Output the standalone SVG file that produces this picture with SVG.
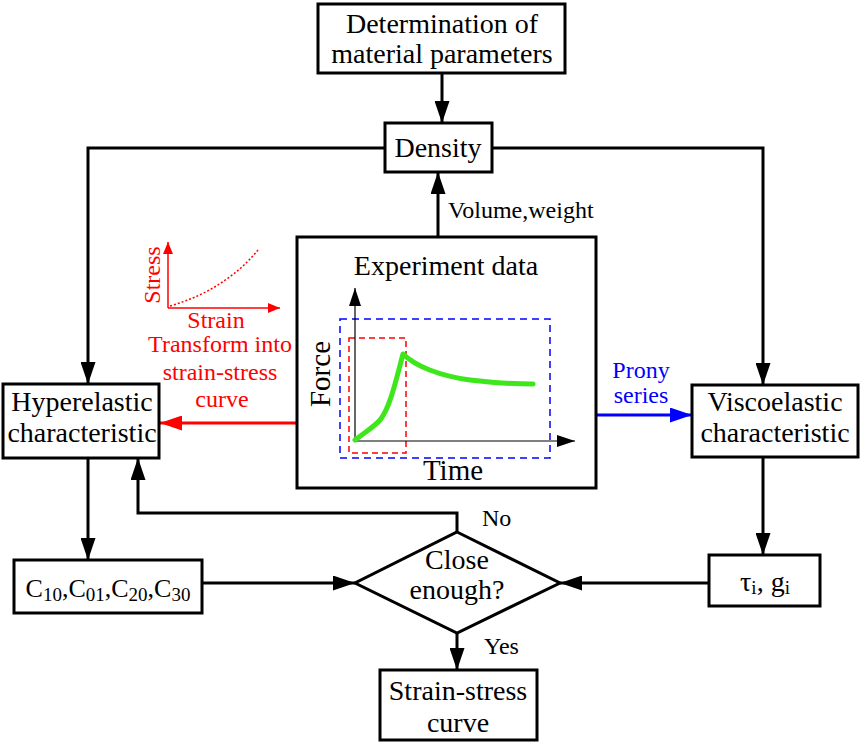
<svg xmlns="http://www.w3.org/2000/svg" width="860" height="744" viewBox="0 0 860 744">
<style>
.box{fill:#fff;stroke:#000;stroke-width:3}
.t{font-family:"Liberation Serif","Times New Roman",serif;font-size:28px;fill:#000;text-anchor:middle}
.s{font-size:24px}
.ln{fill:none;stroke:#000;stroke-width:3}
.red{fill:#f00}
.blue{fill:#00f}
</style>
<defs>
<marker id="ak" viewBox="0 0 22 15" refX="22" refY="7.5" markerWidth="22" markerHeight="15" markerUnits="userSpaceOnUse" orient="auto"><path d="M0,0L22,7.5L0,15z" fill="#000"/></marker>
<marker id="ar" viewBox="0 0 22 15" refX="22" refY="7.5" markerWidth="22" markerHeight="15" markerUnits="userSpaceOnUse" orient="auto"><path d="M0,0L22,7.5L0,15z" fill="#f00"/></marker>
<marker id="ab" viewBox="0 0 22 15" refX="22" refY="7.5" markerWidth="22" markerHeight="15" markerUnits="userSpaceOnUse" orient="auto"><path d="M0,0L22,7.5L0,15z" fill="#00f"/></marker>
<marker id="ax" viewBox="0 0 18 12" refX="18" refY="6" markerWidth="18" markerHeight="12" markerUnits="userSpaceOnUse" orient="auto"><path d="M0,0L18,6L0,12z" fill="#000"/></marker>
<marker id="axr" viewBox="0 0 12 10" refX="12" refY="5" markerWidth="12" markerHeight="10" markerUnits="userSpaceOnUse" orient="auto"><path d="M0,0L12,5L0,10z" fill="#f00"/></marker>
</defs>

<g id="connectors">
<line class="ln" x1="442" y1="73" x2="442" y2="123" marker-end="url(#ak)"/>
<polyline class="ln" points="385,148 88,148 88,384" marker-end="url(#ak)"/>
<polyline class="ln" points="492,148 763,148 763,385" marker-end="url(#ak)"/>
<line class="ln" x1="438" y1="237" x2="438" y2="172" marker-end="url(#ak)"/>
<line x1="349" y1="423" x2="160" y2="423" stroke="#f00" stroke-width="3" marker-end="url(#ar)"/>
<line x1="550" y1="415" x2="692" y2="415" stroke="#00f" stroke-width="3" marker-end="url(#ab)"/>
<line class="ln" x1="88" y1="458" x2="88" y2="560" marker-end="url(#ak)"/>
<polyline class="ln" points="457,532 457,513 138,513 138,458" marker-end="url(#ak)"/>
<line class="ln" x1="202" y1="583" x2="355" y2="583" marker-end="url(#ak)"/>
<line class="ln" x1="709" y1="583" x2="560" y2="583" marker-end="url(#ak)"/>
<line class="ln" x1="763" y1="457" x2="763" y2="555" marker-end="url(#ak)"/>
<line class="ln" x1="457" y1="633" x2="457" y2="670" marker-end="url(#ak)"/>
<text class="t s" x="448" y="218" style="text-anchor:start">Volume,weight</text>
<text class="t s" x="482" y="526" style="text-anchor:start">No</text>
<text class="t s" x="484" y="654" style="text-anchor:start">Yes</text>
<text class="t s red" x="216" y="328">Strain</text>
<text class="t s red" x="220" y="352">Transform into</text>
<text class="t s red" x="220" y="380">strain-stress</text>
<text class="t s red" x="222" y="407">curve</text>
<text class="t s blue" x="641" y="378">Prony</text>
<text class="t s blue" x="641" y="403">series</text>
</g>

<g id="determination">
<rect class="box" x="318" y="4" width="247" height="69"/>
<text class="t" x="442" y="33">Determination of</text>
<text class="t" x="442" y="63">material parameters</text>
</g>

<g id="density">
<rect class="box" x="385" y="123" width="107" height="49"/>
<text class="t" x="438" y="157">Density</text>
</g>

<g id="stress-strain-inset">
<line x1="168" y1="308" x2="168" y2="242" stroke="#f00" stroke-width="1.5" marker-end="url(#axr)"/>
<line x1="168" y1="308" x2="280" y2="308" stroke="#f00" stroke-width="1.5" marker-end="url(#axr)"/>
<path d="M170,306 Q225,290 258,250" fill="none" stroke="#f00" stroke-width="1.5" stroke-dasharray="2,2"/>
<text class="t s red" transform="translate(160,275) rotate(-90)">Stress</text>
</g>

<g id="experiment">
<rect class="box" x="297" y="237" width="299" height="251"/>
<text class="t" x="446" y="275">Experiment data</text>
<rect x="340" y="319" width="210" height="139" fill="none" stroke="#00f" stroke-width="1.5" stroke-dasharray="7,5"/>
<rect x="349" y="338" width="57" height="115" fill="none" stroke="#f00" stroke-width="1.5" stroke-dasharray="6,4"/>
<line x1="355" y1="441" x2="355" y2="288" stroke="#000" stroke-width="1.2" marker-end="url(#ax)"/>
<line x1="355" y1="441" x2="575" y2="441" stroke="#000" stroke-width="1.2" marker-end="url(#ax)"/>
<path d="M355,440 C365,432 374,427 380,420 C390,408 396,380 403,354 C415,366 440,376 470,380 C495,383 515,384 533,384" fill="none" stroke="#3ee61c" stroke-width="5" stroke-linecap="round" stroke-linejoin="round"/>
<text class="t" transform="translate(330,374) rotate(-90)" style="font-size:29px">Force</text>
<text class="t" x="453" y="480" style="font-size:29px">Time</text>
</g>

<g id="hyperelastic">
<rect class="box" x="3" y="384" width="156" height="74"/>
<text class="t" x="82" y="411">Hyperelastic</text>
<text class="t" x="82" y="442">characteristic</text>
</g>

<g id="viscoelastic">
<rect class="box" x="692" y="385" width="166" height="72"/>
<text class="t" x="775" y="411">Viscoelastic</text>
<text class="t" x="775" y="442">characteristic</text>
</g>

<g id="constants">
<rect class="box" x="14" y="560" width="188" height="53"/>
<text class="t" x="108" y="597" style="font-size:26px">C<tspan font-size="19" dy="4">10</tspan><tspan dy="-4">,C</tspan><tspan font-size="19" dy="4">01</tspan><tspan dy="-4">,C</tspan><tspan font-size="19" dy="4">20</tspan><tspan dy="-4">,C</tspan><tspan font-size="19" dy="4">30</tspan></text>
</g>

<g id="decision">
<polygon points="457,532 560,583 457,633 355,583" fill="#fff" stroke="#000" stroke-width="3"/>
<text class="t" x="457" y="569">Close</text>
<text class="t" x="457" y="599">enough?</text>
</g>

<g id="tau-g">
<rect class="box" x="709" y="555" width="111" height="51"/>
<text class="t" x="765" y="591">τ<tspan font-size="19" dy="3">i</tspan><tspan dy="-3">, g</tspan><tspan font-size="19" dy="3">i</tspan></text>
</g>

<g id="result">
<rect class="box" x="380" y="670" width="157" height="70"/>
<text class="t" x="458" y="700">Strain-stress</text>
<text class="t" x="458" y="732">curve</text>
</g>
</svg>
